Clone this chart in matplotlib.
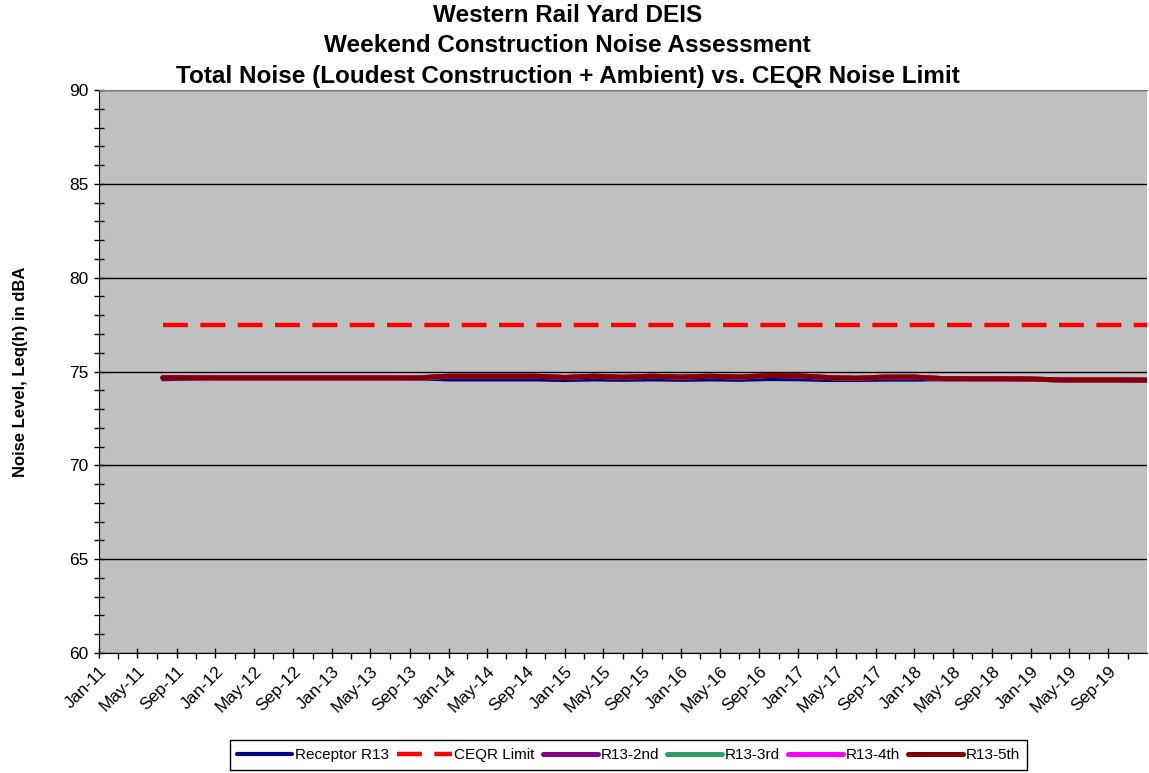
import numpy as np
import pandas as pd
import matplotlib
matplotlib.use("Agg")
import matplotlib.pyplot as plt
import matplotlib.dates as mdates

plt.rcParams['font.family'] = ['Liberation Sans', 'DejaVu Sans']

# quarterly assessment dates (last point closes the period)
dates = ([pd.Timestamp('2011-07-20')] + list(pd.date_range('2011-10-01', '2019-10-01', freq='QS'))
         + [pd.Timestamp('2019-12-31')])

# Total noise, Leq(h) dBA
receptor_r13 = [74.59, 74.62, 74.66, 74.66, 74.66, 74.66, 74.66, 74.66, 74.66, 74.64,
                74.58, 74.58, 74.58, 74.58, 74.55, 74.58, 74.56, 74.58, 74.56, 74.58,
                74.56, 74.60, 74.59, 74.55, 74.55, 74.57, 74.57, 74.59, 74.61, 74.61,
                74.60, 74.55, 74.55, 74.55, 74.54]
r13_5th = [74.67, 74.67, 74.66, 74.66, 74.66, 74.66, 74.66, 74.66, 74.66, 74.66,
           74.75, 74.75, 74.75, 74.75, 74.68, 74.75, 74.69, 74.75, 74.70, 74.75,
           74.70, 74.79, 74.77, 74.68, 74.64, 74.70, 74.70, 74.62, 74.61, 74.61,
           74.60, 74.55, 74.55, 74.55, 74.54]
r13_2nd = list(r13_5th)
r13_3rd = list(r13_5th)
r13_4th = list(r13_5th)
ceqr_limit = 77.5

fig = plt.figure(figsize=(11.49, 7.73), dpi=100)
ax = fig.add_axes([0.0862, 0.1552, 0.912, 0.7284])
ax.set_facecolor('#C0C0C0')

lw = 3.6
ax.plot(dates, receptor_r13, color='#000080', lw=3.0, solid_capstyle='round', label='Receptor R13', zorder=3)
ax.plot(dates, [ceqr_limit] * len(dates), color='#FF0000', lw=3.2, dashes=(5.6, 2.8), label='CEQR Limit', zorder=3)
ax.plot(dates, r13_2nd, color='#800080', lw=lw, solid_capstyle='round', label='R13-2nd', zorder=4)
ax.plot(dates, r13_3rd, color='#339966', lw=lw, solid_capstyle='round', label='R13-3rd', zorder=4)
ax.plot(dates, r13_4th, color='#FF00FF', lw=lw, solid_capstyle='round', label='R13-4th', zorder=4)
ax.plot(dates, r13_5th, color='#800000', lw=lw, solid_capstyle='round', label='R13-5th', zorder=5)

ax.set_ylim(60, 90)
ax.set_xlim(pd.Timestamp('2011-01-01'), pd.Timestamp('2019-12-31'))
ax.set_yticks(np.arange(60, 91, 5))
ax.set_yticks(np.arange(60, 91, 1), minor=True)
ax.yaxis.grid(True, which='major', color='black', lw=1)
ax.set_axisbelow(True)

ax.xaxis.set_major_locator(mdates.MonthLocator(bymonth=(1, 5, 9)))
ax.xaxis.set_minor_locator(mdates.MonthLocator(bymonth=(3, 7, 11)))
ax.xaxis.set_major_formatter(mdates.DateFormatter('%b-%y'))

ax.tick_params(axis='y', which='both', direction='inout', length=7, width=1, labelsize=12.5, pad=4)
ax.tick_params(axis='x', which='major', direction='inout', length=7, width=1, labelsize=12.5, pad=4)
ax.tick_params(axis='x', which='minor', direction='out', length=4, width=1)
for lbl in ax.get_xticklabels():
    lbl.set_rotation(45)
    lbl.set_ha('right')
    lbl.set_rotation_mode('anchor')

ax.spines['top'].set_color('#808080')
ax.spines['right'].set_visible(False)
ax.spines['left'].set_color('black')
ax.spines['bottom'].set_color('black')

ax.set_ylabel('Noise Level, Leq(h) in dBA', fontsize=12, fontweight='bold', labelpad=30)

title_lines = ['Western Rail Yard DEIS',
               'Weekend Construction Noise Assessment',
               'Total Noise (Loudest Construction + Ambient) vs. CEQR Noise Limit']
for i, line in enumerate(title_lines):
    fig.text(0.494, 1 - (15 + 30.5 * i) / 773, line, ha='center', va='center',
             fontsize=17.5, fontweight='bold')

leg = fig.legend(loc='center', bbox_to_anchor=(0.547, 0.0233), ncol=6, fontsize=11,
                 frameon=True, fancybox=False, edgecolor='black', framealpha=1,
                 handlelength=3.6, handletextpad=0.15, columnspacing=0.55,
                 borderpad=0.5, borderaxespad=0)
leg.get_frame().set_linewidth(1)

fig.savefig('out.png', dpi=100)
